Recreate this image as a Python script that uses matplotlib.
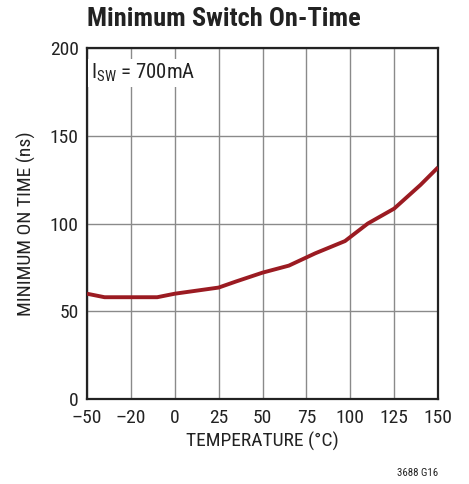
import matplotlib.pyplot as plt
from matplotlib import font_manager

# data
temp_c = [-50, -40, -10, 0, 25, 35, 50, 65, 80, 97, 110, 125, 140, 150]
on_time_ns = [60, 58, 58, 60, 63.5, 67, 72, 76, 83, 90, 100, 108.5, 122, 132]

x_ticks = [-50, -25, 0, 25, 50, 75, 100, 125, 150]
x_tick_labels = ['\u201350', '\u201320', '0', '25', '50', '75', '100', '125', '150']
y_ticks = [0, 50, 100, 150, 200]

names = {f.name for f in font_manager.fontManager.ttflist}
font = 'DejaVu Sans'
for cand in ['Liberation Sans Narrow', 'Roboto Condensed', 'Liberation Sans']:
    if cand in names:
        font = cand
        break
plt.rcParams['font.family'] = [font, 'DejaVu Sans']
plt.rcParams['mathtext.fontset'] = 'custom'
plt.rcParams['mathtext.rm'] = font

fig = plt.figure(figsize=(4.69, 4.84), dpi=100)
ax = fig.add_axes([0.1855, 0.1756, 0.7485, 0.7252])

ax.plot(temp_c, on_time_ns, color='#9b1b22', lw=2.8, solid_capstyle='butt', zorder=3)

ax.set_xlim(-50, 150)
ax.set_ylim(0, 200)
ax.set_xticks(x_ticks)
ax.set_xticklabels(x_tick_labels)
ax.set_yticks(y_ticks)
ax.tick_params(length=0, labelsize=14, colors='#222222')
ax.tick_params(axis='x', pad=7)
ax.tick_params(axis='y', pad=6)
ax.grid(True, color='#8a8a8a', lw=1.0)
ax.set_axisbelow(True)
for s in ax.spines.values():
    s.set_linewidth(1.6)
    s.set_color('#222222')

ax.set_xlabel('TEMPERATURE (\u00b0C)', fontsize=14, color='#222222', labelpad=4)
ax.set_ylabel('MINIMUM ON TIME (ns)', fontsize=14, color='#222222', labelpad=10)

ax.text(-48, 186, r'I$_{\mathregular{SW}}$ = 700mA', fontsize=15, color='#222222',
        va='center', ha='left', zorder=4,
        bbox=dict(facecolor='white', edgecolor='none', pad=2))

fig.text(0.1855, 0.961, 'Minimum Switch On-Time', fontsize=19, fontweight='bold',
         color='#222222', ha='left', va='center')
fig.text(0.934, 0.012, '3688 G16', fontsize=7.8, color='#222222', ha='right', va='bottom')

fig.savefig('out.png', dpi=100)
